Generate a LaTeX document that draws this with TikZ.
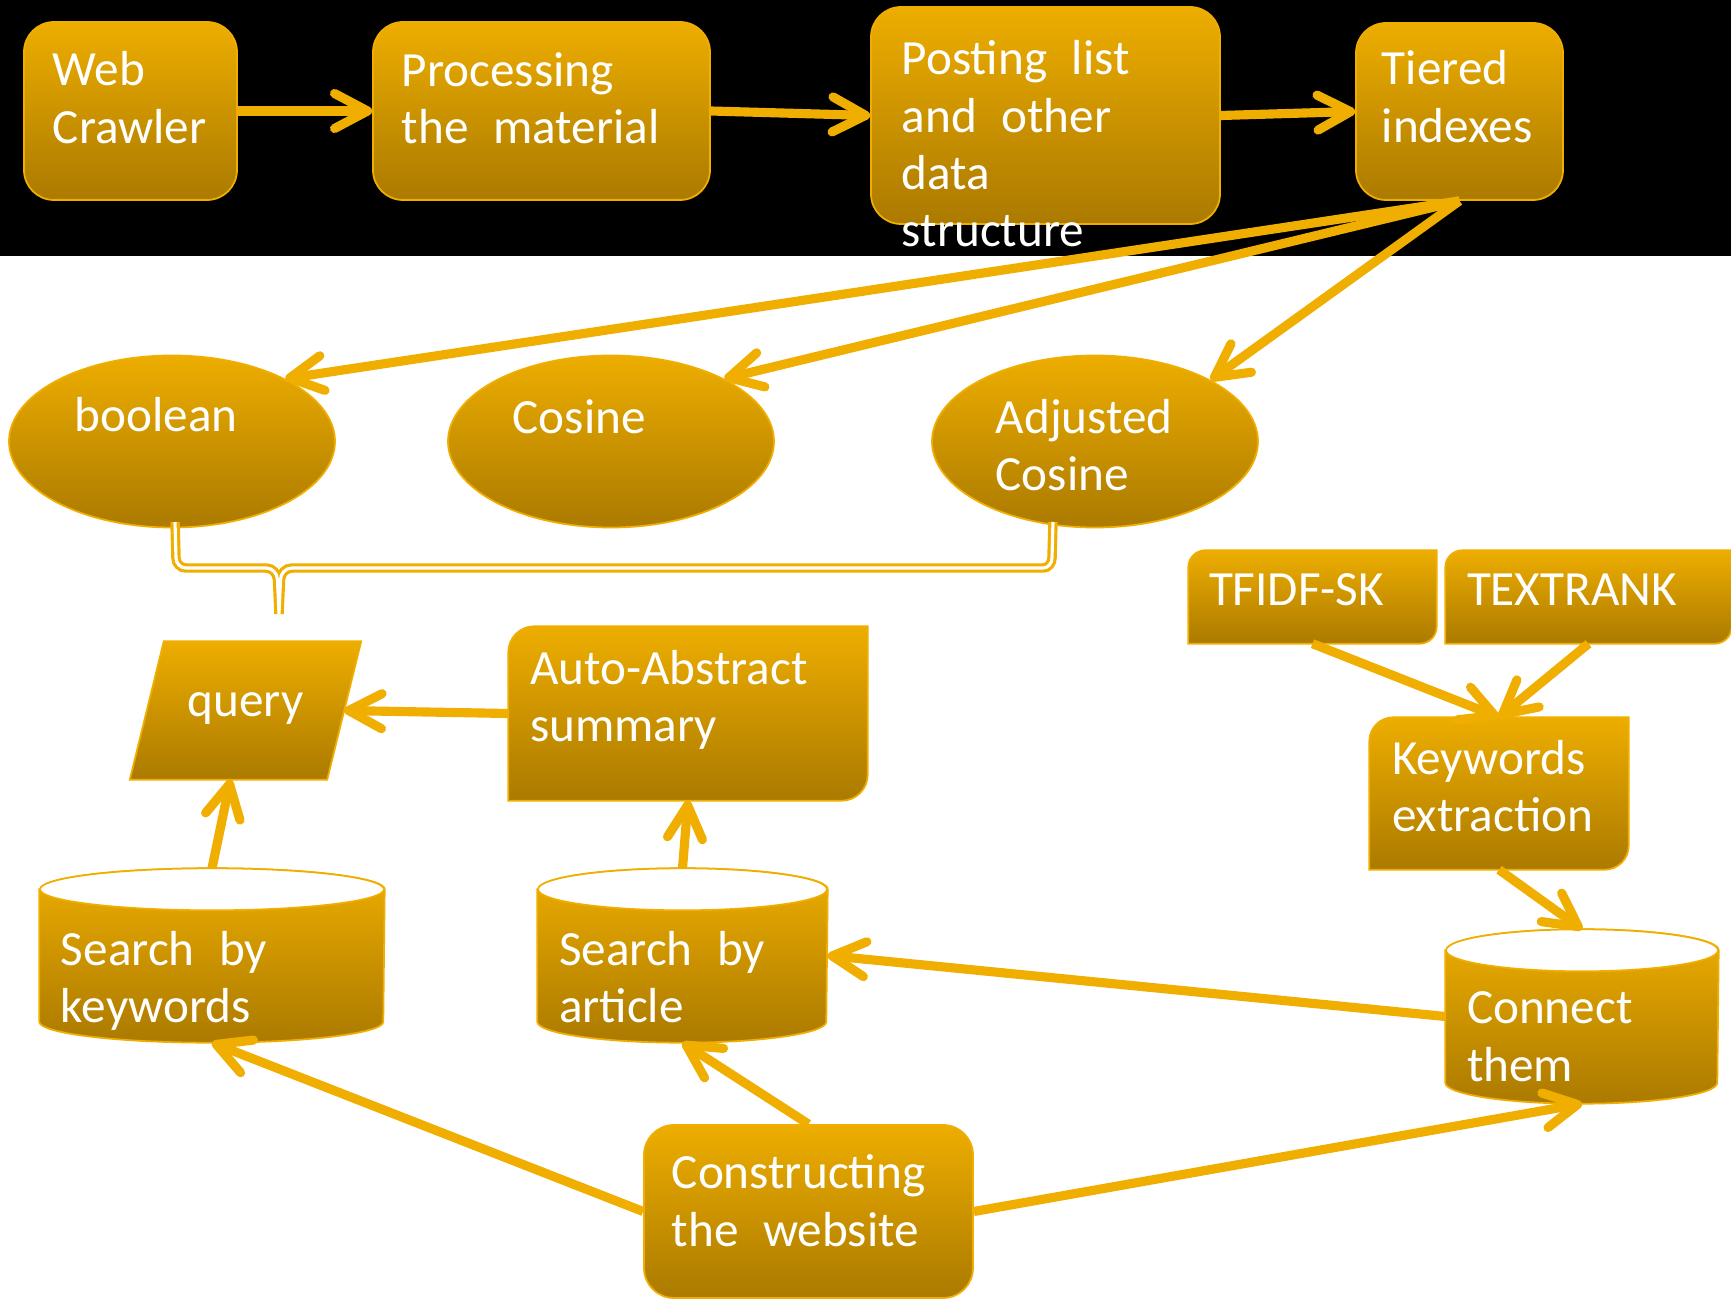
\documentclass[tikz,border=0pt]{standalone}
\usepackage{fontspec}
\setmainfont{Carlito}[WordSpace=2.2]
\usepackage{xcolor}
\definecolor{goldtop}{HTML}{EDAD00}
\definecolor{goldbot}{HTML}{AB7A00}
\definecolor{goldline}{HTML}{F0AE00}
\usetikzlibrary{arrows.meta, shapes}

\newcommand{\boxfont}{\fontsize{14pt}{16.3pt}\selectfont}

\begin{document}
\begin{tikzpicture}[
  every node/.style={inner sep=0pt},
  box/.style={rectangle, rounded corners=3mm, draw=goldline, line width=0.5pt, top color=goldtop, bottom color=goldbot},
  oval/.style={ellipse, draw=goldline, line width=0.5pt, top color=goldtop, bottom color=goldbot, minimum width=3.26cm, minimum height=1.72cm},
  slot/.style={rectangle},
  skin/.style={draw=goldline, line width=0.5pt, top color=goldtop, bottom color=goldbot},
  txt/.style={text=white, align=left, anchor=north west, font=\boxfont},
  flow/.style={draw=goldline, line width=2.6pt, -{Straight Barb[length=3.3mm, width=3.5mm, round]}},
  brace/.style={draw=goldline, line width=0.9pt, double=white, double distance=0.9pt}
]
  \useasboundingbox (0,0) rectangle (17.31,12.98);
  \fill[white] (0,0) rectangle (17.31,12.98);
  \fill[black] (0,10.42) rectangle (17.31,12.98);

  % Indexing pipeline
  \node[box, minimum width=2.13cm, minimum height=1.78cm] (crawler) at (1.305,11.87) {};
  \node[box, minimum width=3.37cm, minimum height=1.78cm] (proc) at (5.415,11.87) {};
  \node[box, minimum width=3.49cm, minimum height=2.17cm] (posting) at (10.455,11.825) {};
  \node[box, minimum width=2.07cm, minimum height=1.77cm] (tiered) at (14.595,11.865) {};

  % Ranking models
  \node[oval] (boolean) at (1.72,8.565) {};
  \node[oval] (cosine) at (6.11,8.565) {};
  \node[oval] (adjusted) at (10.95,8.565) {};

  % Search side
  \node[slot, minimum width=1.96cm, minimum height=1.37cm] (query) at (2.455,5.875) {};
  \node[slot, minimum width=3.58cm, minimum height=1.73cm] (abstract) at (6.88,5.845) {};
  \node[slot, minimum width=2.47cm, minimum height=0.92cm] (tfidf) at (13.125,7.01) {};
  \node[slot, minimum width=2.85cm, minimum height=0.92cm] (textrank) at (15.885,7.01) {};
  \node[slot, minimum width=2.58cm, minimum height=1.51cm] (keywords) at (14.99,5.045) {};
  \node[slot, minimum width=3.44cm, minimum height=1.73cm] (bykw) at (2.12,3.425) {};
  \node[slot, minimum width=2.89cm, minimum height=1.73cm] (byart) at (6.825,3.425) {};
  \node[slot, minimum width=2.72cm, minimum height=1.73cm] (connect) at (15.82,2.815) {};
  \node[box, minimum width=3.29cm, minimum height=1.73cm] (website) at (8.085,0.865) {};

  % Query parallelogram
  \path[skin] ([xshift=-1.7mm]query.south west) -- ([xshift=1.7mm]query.north west)
    -- ([xshift=1.7mm]query.north east) -- ([xshift=-1.7mm]query.south east) -- cycle;
  % Boxes with two round corners
  \foreach \n/\r in {abstract/2.6mm, tfidf/1.7mm, textrank/1.7mm, keywords/2.4mm}
    \path[skin] (\n.south west) -- ([yshift=-\r]\n.north west) arc[start angle=180, end angle=90, radius=\r]
      -- (\n.north east) -- ([yshift=\r]\n.south east) arc[start angle=0, end angle=-90, radius=\r] -- cycle;
  % Cylinders
  \foreach \n/\rx in {bykw/1.72, byart/1.445, connect/1.36} {
    \path[skin] ([yshift=-2.1mm]\n.north west) -- ([yshift=2.1mm]\n.south west)
      arc[start angle=180, end angle=360, x radius=\rx cm, y radius=2.1mm]
      -- ([yshift=-2.1mm]\n.north east) arc[start angle=0, end angle=180, x radius=\rx cm, y radius=2.1mm] -- cycle;
    \path[draw=goldline, line width=0.5pt, fill=white] ([yshift=-2.1mm]\n.north) ellipse[x radius=\rx cm, y radius=2.1mm];
  }

  % Texts
  \node[txt] (crawlerlbl) at ([xshift=2.9mm, yshift=-3.0mm]crawler.north west) {Web\\Crawler};
  \node[txt] (proclbl) at ([xshift=2.9mm, yshift=-3.1mm]proc.north west) {Processing\\the material};
  \node[txt] (postinglbl) at ([xshift=3.1mm, yshift=-3.4mm]posting.north west) {Posting list\\and other\\data\\structure};
  \node[txt] (tieredlbl) at ([xshift=2.6mm, yshift=-2.8mm]tiered.north west) {Tiered\\indexes};
  \node[txt] (booleanlbl) at ([xshift=-9.8mm, yshift=4.5mm]boolean.center) {boolean};
  \node[txt] (cosinelbl) at ([xshift=-9.9mm, yshift=4.3mm]cosine.center) {Cosine};
  \node[txt] (adjustedlbl) at ([xshift=-10mm, yshift=4.3mm]adjusted.center) {Adjusted\\Cosine};
  \node[txt, anchor=center] (querylbl) at ([yshift=0.2mm]query.center) {query};
  \node[txt] (abstractlbl) at ([xshift=2.1mm, yshift=-2.3mm]abstract.north west) {Auto-Abstract\\summary};
  \node[txt] (tfidflbl) at ([xshift=2mm, yshift=-2.3mm]tfidf.north west) {TFIDF-SK};
  \node[txt] (textranklbl) at ([xshift=2.1mm, yshift=-2.3mm]textrank.north west) {TEXTRANK};
  \node[txt] (keywordslbl) at ([xshift=2.2mm, yshift=-2.2mm]keywords.north west) {Keywords\\extraction};
  \node[txt] (bykwlbl) at ([xshift=2.1mm, yshift=-6.2mm]bykw.north west) {Search by\\keywords};
  \node[txt] (byartlbl) at ([xshift=2.1mm, yshift=-6.2mm]byart.north west) {Search by\\article};
  \node[txt] (connectlbl) at ([xshift=2.1mm, yshift=-6.2mm]connect.north west) {Connect\\them};
  \node[txt] (websitelbl) at ([xshift=2.8mm, yshift=-3.0mm]website.north west) {Constructing\\the website};

  % Brace under the models
  \draw[brace] (1.75,7.76) -- (1.76,7.40) to[out=-90,in=180] (1.86,7.30) -- (2.66,7.30)
    to[out=0,in=90] (2.775,7.18) -- (2.79,6.84) -- (2.805,7.18) to[out=90,in=180] (2.92,7.30)
    -- (10.43,7.30) to[out=0,in=-90] (10.52,7.40) -- (10.53,7.76);

  % Arrows
  \draw[flow] (crawler.east) -- (proc.west);
  \draw[flow] (proc.east) -- (posting.west);
  \draw[flow] (posting.east) -- (tiered.west);
  \draw[flow] (tiered.south) -- (boolean.29);
  \draw[flow] (tiered.south) -- (cosine.29);
  \draw[flow] (tiered.south) -- (adjusted.28);
  \draw[flow] (abstract.west) -- (query.east);
  \draw[flow] (bykw.north) -- ([xshift=-1.5mm]query.south);
  \draw[flow] (byart.north) -- (abstract.south);
  \draw[flow] (tfidf.south) -- (keywords.north);
  \draw[flow] (textrank.south) -- (keywords.north);
  \draw[flow] (keywords.south) -- (connect.north);
  \draw[flow] (connect.west) -- (byart.east);
  \draw[flow] (website.west) -- (bykw.south);
  \draw[flow] (website.north) -- (byart.south);
  \draw[flow] (website.east) -- (connect.south);
\end{tikzpicture}
\end{document}
